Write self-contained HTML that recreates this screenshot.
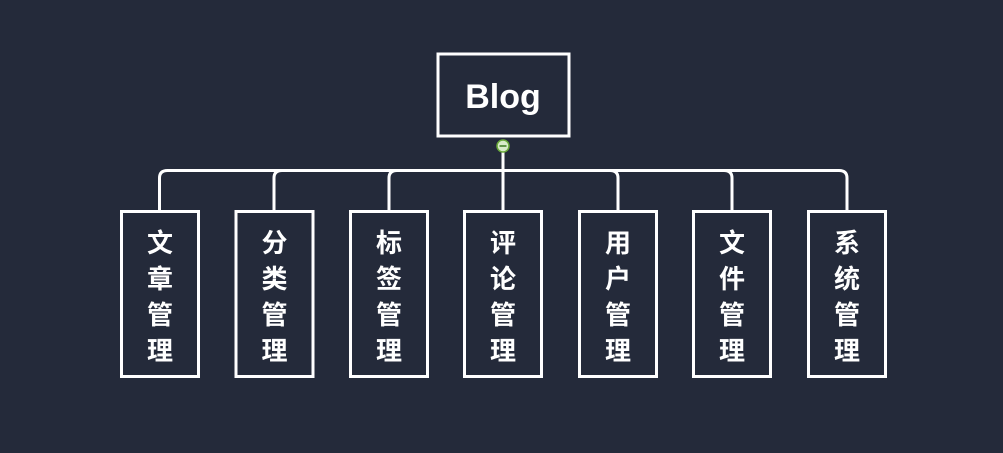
<!DOCTYPE html>
<html><head><meta charset="utf-8"><style>
html,body{margin:0;padding:0;background:#242a3a;}
svg{display:block}
text{font-family:"Liberation Sans","Noto Sans CJK SC",sans-serif;font-weight:bold;fill:#fff;}
</style></head><body>
<svg width="1003" height="453" viewBox="0 0 1003 453" xmlns="http://www.w3.org/2000/svg">
<rect width="1003" height="453" fill="#242a3a"/>
<g fill="none" stroke="#fff" stroke-width="3">
<rect x="438" y="54" width="131" height="82"/>
<line x1="503" y1="152" x2="503" y2="211"/>
<path d="M159.5 211 V178 Q159.5 170.5 167.5 170.5 H839 Q847 170.5 847 178 V211"/>
<path d="M274 211 V178 Q274 170.5 282 170.5"/>
<path d="M389 211 V178 Q389 170.5 397 170.5"/>
<path d="M618 211 V178 Q618 170.5 610 170.5"/>
<path d="M732 211 V178 Q732 170.5 724 170.5"/>
<rect x="121.5" y="211.5" width="77" height="165"/>
<rect x="236" y="211.5" width="77" height="165"/>
<rect x="350.5" y="211.5" width="77" height="165"/>
<rect x="464.5" y="211.5" width="77" height="165"/>
<rect x="579.5" y="211.5" width="77" height="165"/>
<rect x="693.5" y="211.5" width="77" height="165"/>
<rect x="808.5" y="211.5" width="77" height="165"/>
</g>
<circle cx="503" cy="146" r="6" fill="#d8ecc8" stroke="#6aaa3a" stroke-width="1.5"/>
<line x1="499.5" y1="146" x2="506.5" y2="146" stroke="#3a7a20" stroke-width="1.5"/>
<text x="503" y="108" font-size="34" text-anchor="middle">Blog</text>
<g font-size="26" text-anchor="middle">
<text x="160" y="252">文</text><text x="160" y="288">章</text><text x="160" y="324">管</text><text x="160" y="360">理</text>
<text x="274.5" y="252">分</text><text x="274.5" y="288">类</text><text x="274.5" y="324">管</text><text x="274.5" y="360">理</text>
<text x="389" y="252">标</text><text x="389" y="288">签</text><text x="389" y="324">管</text><text x="389" y="360">理</text>
<text x="503" y="252">评</text><text x="503" y="288">论</text><text x="503" y="324">管</text><text x="503" y="360">理</text>
<text x="618" y="252">用</text><text x="618" y="288">户</text><text x="618" y="324">管</text><text x="618" y="360">理</text>
<text x="732" y="252">文</text><text x="732" y="288">件</text><text x="732" y="324">管</text><text x="732" y="360">理</text>
<text x="847" y="252">系</text><text x="847" y="288">统</text><text x="847" y="324">管</text><text x="847" y="360">理</text>
</g>
</svg>
</body></html>
